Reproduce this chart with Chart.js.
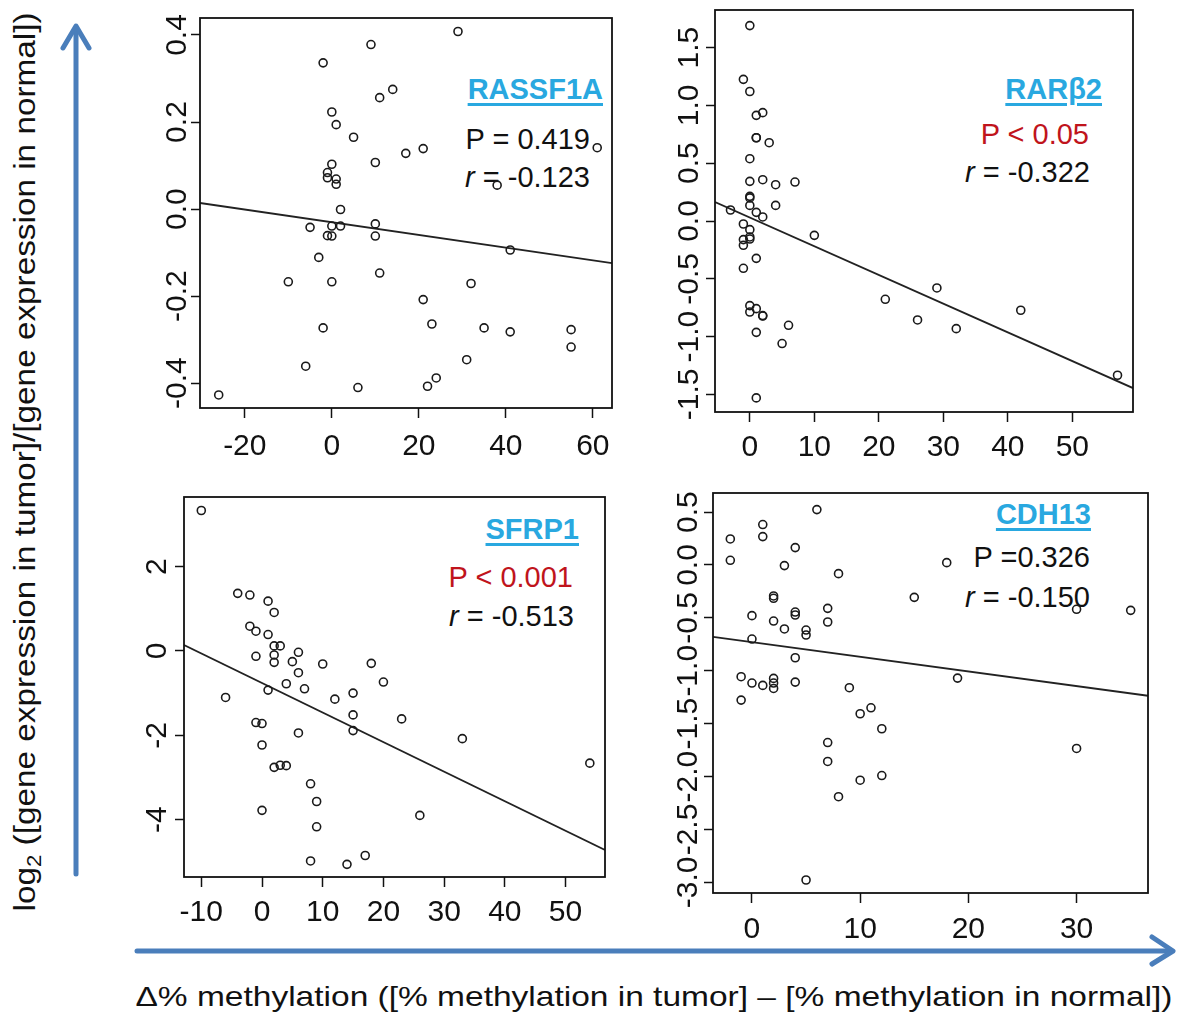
<!DOCTYPE html>
<html lang="en">
<head>
<meta charset="UTF-8">
<title>Methylation vs gene expression</title>
<script src="https://cdn.jsdelivr.net/npm/chart.js"></script>
<style>
    html, body { margin: 0; padding: 0; background: #fff; }
    body { width: 1177px; height: 1014px; position: relative; overflow: hidden;
           font-family: 'Liberation Sans', Arial, sans-serif; }
    .note { position: absolute; white-space: nowrap; font-size: 29px; line-height: 29px; color: #111; }
    .gene { font-weight: bold; color: #29a8e0; text-decoration: underline;
            text-decoration-thickness: 3px; text-underline-offset: 4px; }
    .red { color: #c0141c; }
    svg { position: absolute; left: 0; top: 0; }
</style>
</head>
<body>
<svg width="1177" height="1014">
    <g stroke="#4a7ebb" stroke-width="5" fill="none" stroke-linecap="round" stroke-linejoin="round">
        <line x1="76" y1="874" x2="76" y2="28"/>
        <polyline points="63,48 76,26 89,48"/>
        <line x1="137" y1="951" x2="1171" y2="951"/>
        <polyline points="1152,937 1173,951 1152,964"/>
    </g>
    <text transform="translate(35,462) rotate(-90)" text-anchor="middle" font-size="30" fill="#111"
          textLength="899" lengthAdjust="spacingAndGlyphs">log<tspan font-size="20" dy="6">2</tspan><tspan dy="-6"> ([gene expression in tumor]/[gene expression in normal])</tspan></text>
    <text x="654" y="1006" text-anchor="middle" font-size="28" fill="#111"
          textLength="1037" lengthAdjust="spacingAndGlyphs">Δ% methylation ([% methylation in tumor] – [% methylation in normal])</text>
</svg>

<div class="note gene" style="right:574px; top:75px">RASSF1A</div>
<div class="note" style="right:587px; top:125px">P = 0.419</div>
<div class="note" style="right:587px; top:163px"><i>r</i> = -0.123</div>

<div class="note gene" style="right:75px; top:75px">RARβ2</div>
<div class="note red" style="right:88px; top:120px">P &lt; 0.05</div>
<div class="note" style="right:87px; top:158px"><i>r</i> = -0.322</div>

<div class="note gene" style="right:598px; top:515px">SFRP1</div>
<div class="note red" style="right:604px; top:563px">P &lt; 0.001</div>
<div class="note" style="right:603px; top:602px"><i>r</i> = -0.513</div>

<div class="note gene" style="right:86px; top:500px">CDH13</div>
<div class="note" style="right:87px; top:543px">P =0.326</div>
<div class="note" style="right:87px; top:583px"><i>r</i> = -0.150</div>

<script>
// RASSF1A
const rassfX = [29, 9, -2, 14, 11, 0, 1, 5, 17, 21, 61, 0, 10, -1, -1, 1, 1, 38, 2, -5, 0, 2, 10, -1, 0, 10, -3, 41, -10, 0, 11, 32, 21, 23, -2, 35, 41, 55, 55, 31, -6, 24, 22, 6, -26];
const rassfY = [0.408, 0.378, 0.336, 0.275, 0.256, 0.223, 0.194, 0.165, 0.128, 0.139, 0.141, 0.103, 0.107, 0.084, 0.072, 0.069, 0.057, 0.055, -0.001, -0.042, -0.039, -0.039, -0.034, -0.061, -0.062, -0.062, -0.111, -0.094, -0.167, -0.167, -0.147, -0.171, -0.208, -0.264, -0.273, -0.273, -0.282, -0.277, -0.317, -0.346, -0.361, -0.388, -0.407, -0.410, -0.427];
const rassfFitX = [-30.3, 64.4];
const rassfFitY = [0.014, -0.124];
const rassfXTicks = [-20, 0, 20, 40, 60];
const rassfYTicks = [-0.4, -0.2, 0, 0.2, 0.4];

// RARb2
const rarX = [0, -1, 0, 1, 2, 1, 1, 3, 0, 0, 2, 4, 7, 0, 0, 0, 4, -3, 1, 2, -1, 0, 0, 0, -1, -1, 10, 1, -1, 29, 21, 42, 0, 0, 1, 2, 2, 26, 32, 6, 1, 5, 57, 1];
const rarY = [1.69, 1.225, 1.12, 0.914, 0.937, 0.72, 0.72, 0.677, 0.539, 0.343, 0.357, 0.314, 0.337, 0.213, 0.20, 0.135, 0.135, 0.095, 0.075, 0.035, -0.026, -0.075, -0.138, -0.156, -0.161, -0.21, -0.124, -0.323, -0.409, -0.579, -0.677, -0.772, -0.732, -0.787, -0.758, -0.818, -0.822, -0.856, -0.931, -0.902, -0.963, -1.06, -1.334, -1.53];
const rarFitX = [-5.4, 59.4];
const rarFitY = [0.164, -1.445];
const rarXTicks = [0, 10, 20, 30, 40, 50];
const rarYTicks = [-1.5, -1, -0.5, 0, 0.5, 1, 1.5];

// SFRP1
const sfrpX = [-10, -4, -2, 1, 2, -2, -1, 1, 2, 3, -1, 2, 2, 6, 5, 10, 18, 6, 4, 20, 7, 1, -6, 12, 15, 15, 23, -1, 0, 15, 6, 0, 33, 2, 3, 4, 54, 8, 9, 0, 26, 9, 17, 8, 14];
const sfrpY = [3.33, 1.365, 1.325, 1.18, 0.913, 0.587, 0.468, 0.389, 0.119, 0.119, -0.127, -0.095, -0.27, -0.032, -0.254, -0.31, -0.294, -0.516, -0.778, -0.738, -0.897, -0.929, -1.103, -1.143, -1.0, -1.516, -1.611, -1.698, -1.722, -1.889, -1.944, -2.23, -2.08, -2.76, -2.71, -2.72, -2.66, -3.15, -3.57, -3.78, -3.90, -4.17, -4.85, -4.98, -5.06];
const sfrpFitX = [-12.85, 56.5];
const sfrpFitY = [0.14, -4.72];
const sfrpXTicks = [-10, 0, 10, 20, 30, 40, 50];
const sfrpYTicks = [-4, -2, 0, 2];

// CDH13
const cdhX = [6, 1, -2, 1, 4, -2, 3, 18, 8, 2, 2, 15, 30, 35, 7, 4, 4, 0, 2, 7, 3, 5, 5, 0, 4, -1, 0, 1, 2, 2, 2, 4, 9, 19, -1, 11, 10, 12, 7, 30, 7, 12, 10, 8, 5];
const cdhY = [0.523, 0.382, 0.246, 0.268, 0.164, 0.044, -0.006, 0.022, -0.082, -0.293, -0.315, -0.306, -0.419, -0.429, -0.41, -0.445, -0.473, -0.479, -0.53, -0.539, -0.605, -0.615, -0.662, -0.70, -0.877, -1.056, -1.116, -1.138, -1.072, -1.116, -1.167, -1.107, -1.16, -1.069, -1.277, -1.35, -1.406, -1.548, -1.678, -1.734, -1.857, -1.99, -2.034, -2.19, -2.977];
const cdhFitX = [-3.6, 36.6];
const cdhFitY = [-0.68, -1.236];
const cdhXTicks = [0, 10, 20, 30];
const cdhYTicks = [-3, -2.5, -2, -1.5, -1, -0.5, 0, 0.5];

const FONT = "'Liberation Sans', Arial, sans-serif";
Chart.defaults.font.family = FONT;

const AXIS_W = 80, AXIS_H = 80, PAD_T = 40, PAD_R = 40;

// box around the plot area, like R's box()
const frame = {
    id: 'frame',
    afterDraw(chart) {
        const { ctx, chartArea: a } = chart;
        ctx.save();
        ctx.strokeStyle = '#111';
        ctx.lineWidth = 1.8;
        ctx.strokeRect(a.left, a.top, a.right - a.left, a.bottom - a.top);
        ctx.restore();
    }
};

function pairs(xs, ys) {
    return xs.map((v, i) => ({ x: v, y: ys[i] }));
}

function makePanel(p) {
    const w = (p.box.r - p.box.l) + AXIS_W + PAD_R;
    const h = (p.box.b - p.box.t) + PAD_T + AXIS_H;
    const cv = document.createElement('canvas');
    cv.width = w;
    cv.height = h;
    cv.style.cssText = `position:absolute;left:${p.box.l - AXIS_W}px;top:${p.box.t - PAD_T}px;width:${w}px;height:${h}px`;
    document.body.appendChild(cv);

    new Chart(cv, {
        type: 'scatter',
        data: {
            datasets: [{
                data: pairs(p.x, p.y),
                pointRadius: 4,
                pointHoverRadius: 4,
                borderWidth: 1.6,
                borderColor: '#1a1a1a',
                backgroundColor: 'rgba(0,0,0,0)'
            }, {
                type: 'line',
                data: pairs(p.fitX, p.fitY),
                borderColor: '#222',
                borderWidth: 1.8,
                pointRadius: 0,
                fill: false
            }]
        },
        options: {
            responsive: false,
            animation: false,
            events: [],
            layout: { padding: { top: PAD_T, right: PAD_R, left: 0, bottom: 0 } },
            plugins: { legend: { display: false }, tooltip: { enabled: false } },
            scales: {
                x: {
                    type: 'linear',
                    min: p.xMin,
                    max: p.xMax,
                    afterBuildTicks: s => { s.ticks = p.xTicks.map(v => ({ value: v })); },
                    afterFit: s => { s.height = AXIS_H; },
                    border: { display: false },
                    grid: { drawOnChartArea: false, tickLength: 10, tickColor: '#111', tickWidth: 1.5 },
                    ticks: {
                        font: { size: 30 },
                        color: '#111',
                        padding: p.xPad,
                        maxRotation: 0,
                        autoSkip: false,
                        callback: v => String(v)
                    }
                },
                y: {
                    type: 'linear',
                    min: p.yMin,
                    max: p.yMax,
                    afterBuildTicks: s => { s.ticks = p.yTicks.map(v => ({ value: v })); },
                    afterFit: s => { s.width = AXIS_W; },
                    border: { display: false },
                    grid: { drawOnChartArea: false, tickLength: 9, tickColor: '#111', tickWidth: 1.5 },
                    ticks: {
                        font: { size: 30 },
                        color: '#111',
                        padding: p.yPad,
                        minRotation: 90,
                        maxRotation: 90,
                        crossAlign: 'center',
                        autoSkip: false,
                        callback: v => v.toFixed(p.yDec)
                    }
                }
            }
        },
        plugins: [frame]
    });
}

makePanel({
    box: { l: 200, t: 18, r: 612, b: 408 },
    x: rassfX, y: rassfY, fitX: rassfFitX, fitY: rassfFitY,
    xTicks: rassfXTicks, yTicks: rassfYTicks,
    xMin: -30.3, xMax: 64.4, yMin: -0.457, yMax: 0.439,
    yDec: 1, xPad: 11, yPad: -13
});
makePanel({
    box: { l: 715, t: 10, r: 1133, b: 412 },
    x: rarX, y: rarY, fitX: rarFitX, fitY: rarFitY,
    xTicks: rarXTicks, yTicks: rarYTicks,
    xMin: -5.4, xMax: 59.4, yMin: -1.652, yMax: 1.825,
    yDec: 1, xPad: 8, yPad: -10
});
makePanel({
    box: { l: 184, t: 497, r: 605, b: 877 },
    x: sfrpX, y: sfrpY, fitX: sfrpFitX, fitY: sfrpFitY,
    xTicks: sfrpXTicks, yTicks: sfrpYTicks,
    xMin: -12.85, xMax: 56.5, yMin: -5.36, yMax: 3.65,
    yDec: 0, xPad: 8, yPad: 4
});
makePanel({
    box: { l: 713, t: 493, r: 1148, b: 893 },
    x: cdhX, y: cdhY, fitX: cdhFitX, fitY: cdhFitY,
    xTicks: cdhXTicks, yTicks: cdhYTicks,
    xMin: -3.6, xMax: 36.6, yMin: -3.10, yMax: 0.68,
    yDec: 1, xPad: 9, yPad: -11
});
</script>
</body>
</html>
